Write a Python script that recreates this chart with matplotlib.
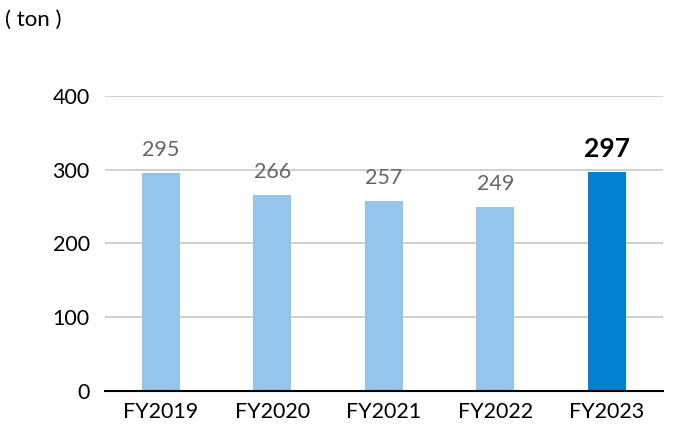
import matplotlib.pyplot as plt

plt.rcParams['font.family'] = ['Lato', 'DejaVu Sans']

years = ['FY2019', 'FY2020', 'FY2021', 'FY2022', 'FY2023']
values = [295, 266, 257, 249, 297]
colors = ['#94c5ea', '#94c5ea', '#94c5ea', '#94c5ea', '#0082d0']

fig = plt.figure(figsize=(6.86, 4.48), dpi=100)
ax = fig.add_axes([0.153, 0.127, 0.813, 0.659])

x = range(len(years))
bars = ax.bar(x, values, width=0.34, color=colors, zorder=3)

ax.set_ylim(0, 400)
ax.set_xlim(-0.5, len(years) - 0.5)
ax.set_yticks([0, 100, 200, 300, 400])
ax.set_xticks(list(x))
ax.set_xticklabels(years)
ax.yaxis.grid(True, color='#c8c8c8', linewidth=1.2, zorder=0)
for s in ['top', 'right', 'left']:
    ax.spines[s].set_visible(False)
ax.spines['bottom'].set_color('black')
ax.spines['bottom'].set_linewidth(1.5)
ax.spines['bottom'].set_zorder(4)
ax.tick_params(axis='y', length=0, pad=11, labelsize=15.5)
ax.tick_params(axis='x', length=0, pad=8, labelsize=15.5)

for i, v in enumerate(values):
    last = i == len(values) - 1
    ax.annotate(str(v), (i, v), xytext=(0, 8 if last else 9.5), textcoords='offset points',
                ha='center', va='bottom',
                fontsize=19 if last else 15.5,
                fontweight='bold' if last else 'normal',
                color='black' if last else '#666666')

fig.text(0.008, 0.955, '( ton )', fontsize=16, ha='left', va='center')

fig.savefig('out.png', dpi=100)
